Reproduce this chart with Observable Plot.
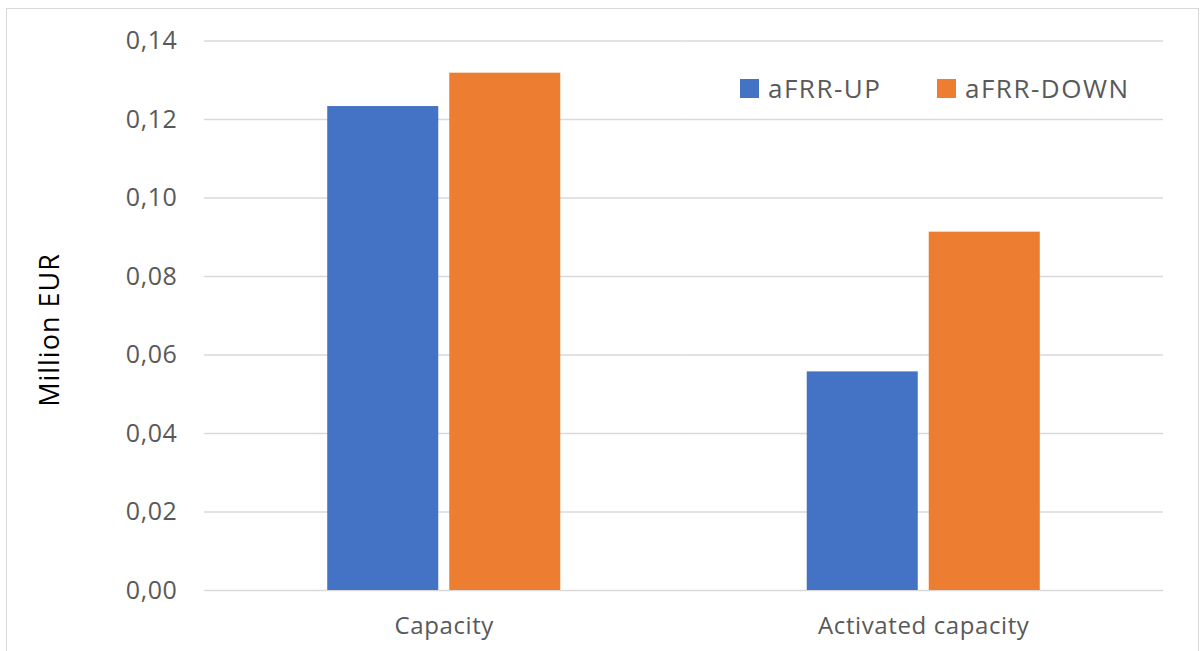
<!DOCTYPE html>
<html><head><meta charset="utf-8">
<script src="https://cdn.jsdelivr.net/npm/d3@7"></script>
<script src="https://cdn.jsdelivr.net/npm/@observablehq/plot@0.6"></script>
<style>
body{margin:0;background:#fff;font-family:"Open Sans",sans-serif;}
#wrap{position:relative;width:1203px;height:651px;overflow:hidden;background:#fff;}
#border{position:absolute;left:6px;top:8px;width:1193px;height:700px;border:1.5px solid #d9d9d9;box-sizing:border-box;}
#chart{position:absolute;left:0;top:0;}
#chart svg text{letter-spacing:0.6px;}
#legend{position:absolute;top:70px;left:740px;display:flex;align-items:center;font-size:26px;letter-spacing:1.5px;color:#595959;}
#legend .item{display:flex;align-items:center;}
#legend .item:first-child{width:197px;}
#legend .sw{width:19px;height:19px;margin-right:9px;}
#ylabel{position:absolute;left:48px;top:330px;transform:translate(-50%,-50%) rotate(-90deg);font-size:27px;letter-spacing:1px;color:#000;white-space:nowrap;}
</style>
</head><body>
<div id="wrap">
  <div id="border"></div>
  <div id="chart"></div>
  <div id="legend"></div>
  <div id="ylabel"></div>
</div>
<script>
const categories = ["Capacity", "Activated capacity"];
const seriesNames = ["aFRR-UP", "aFRR-DOWN"];
const upValues = [0.1233, 0.0557];
const downValues = [0.1318, 0.0913];
const yTicks = [0, 0.02, 0.04, 0.06, 0.08, 0.10, 0.12, 0.14];
const seriesColors = ["#4472C4", "#ED7D31"];
const yLabel = "Million EUR";

const data = [];
categories.forEach((c, i) => {
  data.push({category: c, series: seriesNames[0], value: upValues[i]});
  data.push({category: c, series: seriesNames[1], value: downValues[i]});
});

const chart = Plot.plot({
  width: 1203,
  height: 651,
  marginLeft: 204,
  marginRight: 40,
  marginTop: 40.5,
  marginBottom: 61,
  style: {fontFamily: "'Open Sans', sans-serif", background: "transparent"},
  fx: {domain: categories, padding: 0, round: false},
  x: {domain: seriesNames, paddingInner: 0.09, paddingOuter: 1.01, round: false, axis: null},
  y: {domain: [0, 0.14]},
  color: {domain: seriesNames, range: seriesColors},
  marks: [
    Plot.gridY(yTicks, {stroke: "#d9d9d9", strokeOpacity: 1, strokeWidth: 1.3}),
    Plot.barY(data, {fx: "category", x: "series", y: "value", fill: "series"}),
    Plot.axisY(yTicks, {anchor: "left", tickSize: 0, tickPadding: 27, label: null,
      tickFormat: d => d.toFixed(2).replace(".", ","), fontSize: 25, fill: "#595959"}),
    Plot.axisFx({anchor: "bottom", tickSize: 0, tickPadding: 26, label: null, fontSize: 24, fill: "#595959"})
  ]
});
document.getElementById("chart").appendChild(chart);

const legend = document.getElementById("legend");
seriesNames.forEach((s, i) => {
  const item = document.createElement("div");
  item.className = "item";
  const sw = document.createElement("div");
  sw.className = "sw";
  sw.style.background = seriesColors[i];
  const t = document.createElement("span");
  t.textContent = s;
  item.appendChild(sw); item.appendChild(t);
  legend.appendChild(item);
});
document.getElementById("ylabel").textContent = yLabel;
</script>
</body></html>
